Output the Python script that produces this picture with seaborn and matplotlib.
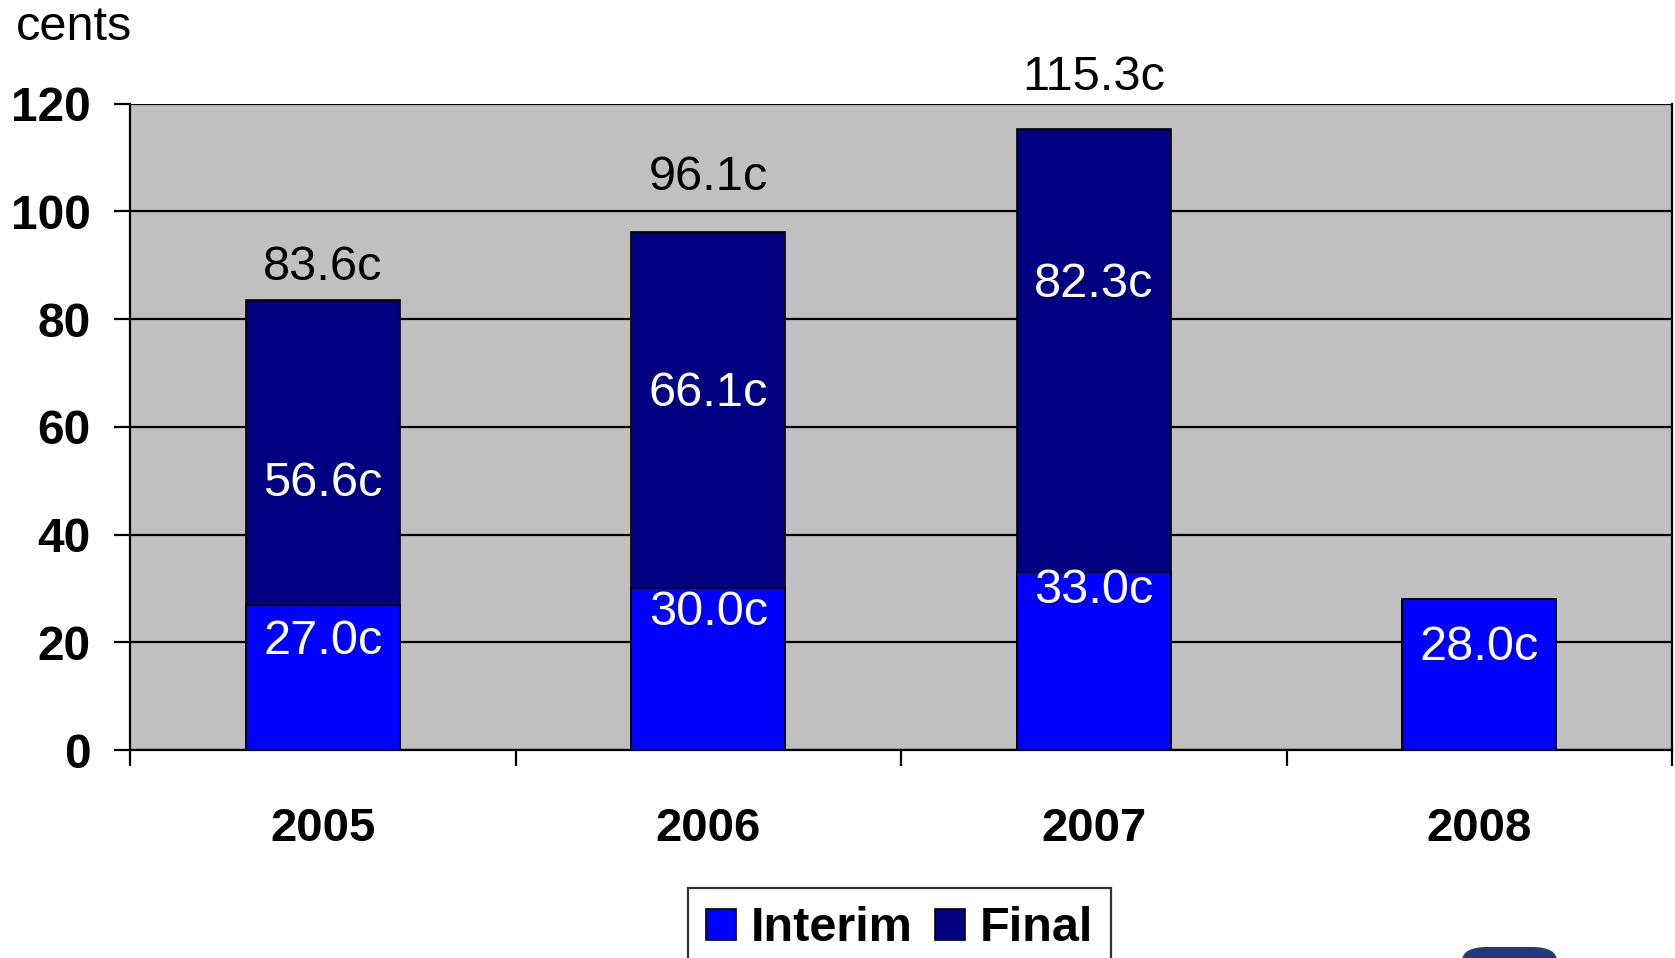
import numpy as np
import pandas as pd
import matplotlib.pyplot as plt
import seaborn as sns
from matplotlib.patches import Patch, FancyBboxPatch

# dividend per share, cents
years = ['2005', '2006', '2007', '2008']
interim = [27.0, 30.0, 33.0, 28.0]
final = [56.6, 66.1, 82.3, np.nan]

# where the labels sit (value units), as laid out in the original
final_label_y = [49.4, 66.2, 86.4, None]
interim_label_y = [20.1, 25.6, 29.6, 19.1]
total_label_y = [89.6, 106.2, 124.8, None]

df = pd.DataFrame({'year': years, 'interim': interim, 'final': final})
df['total'] = df['interim'] + df['final'].fillna(0)

sns.set_style('white')
plt.rcParams['font.family'] = ['Liberation Sans', 'DejaVu Sans']
plt.rcParams['text.color'] = 'black'
plt.rcParams['xtick.color'] = 'black'
plt.rcParams['ytick.color'] = 'black'

fig = plt.figure(figsize=(16.75, 9.58), dpi=100)
ax = fig.add_axes([130 / 1675, 1 - 750 / 958, 1542 / 1675, (750 - 103.6) / 958])
ax.set_facecolor('#C0C0C0')

sns.barplot(data=df, x='year', y='total', color='#000080', width=0.4,
            saturation=1, edgecolor='black', linewidth=1.2, ax=ax)
sns.barplot(data=df, x='year', y='interim', color='#0000FF', width=0.4,
            saturation=1, edgecolor='black', linewidth=1.2, ax=ax)

ax.set_xlim(-0.5, 3.5)
ax.set_ylim(0, 120)
ax.set_yticks(range(0, 121, 20))
ax.yaxis.grid(True, color='black', lw=1.6)
ax.set_axisbelow(True)
ax.set_xlabel('')
ax.set_ylabel('')

for s in ['left', 'bottom', 'right']:
    ax.spines[s].set_visible(True)
    ax.spines[s].set_color('black')
    ax.spines[s].set_linewidth(1.6)
ax.spines['top'].set_visible(False)

ax.tick_params(axis='y', which='major', direction='out', length=11.5, width=1.6,
               pad=17, labelsize=34.5, left=True, labelcolor='black')
ax.set_yticklabels([str(v) for v in range(0, 121, 20)], fontweight='bold')
ax.set_xticks(range(len(years)))
ax.set_xticklabels(years, fontweight='bold')
ax.tick_params(axis='x', which='major', length=0, pad=41, labelsize=34,
               labelcolor='black')
ax.set_xticks(np.arange(-0.5, len(years), 1.0), minor=True)
ax.tick_params(axis='x', which='minor', direction='out', length=11.5, width=1.6,
               bottom=True)

for i in range(len(years)):
    ax.text(i, interim_label_y[i], f'{interim[i]:.1f}c', color='white',
            fontsize=35, ha='center', va='center')
    if not np.isnan(final[i]):
        ax.text(i, final_label_y[i], f'{final[i]:.1f}c', color='white',
                fontsize=35, ha='center', va='center')
        ax.text(i, total_label_y[i], f'{df["total"][i]:.1f}c', color='black',
                fontsize=35, ha='center', va='center', clip_on=False)

fig.text(16 / 1675, 1 - 28 / 958, 'cents', fontsize=35, ha='left', va='center')

handles = [Patch(facecolor='#0000FF', edgecolor='black', lw=1.2, label='Interim'),
           Patch(facecolor='#000080', edgecolor='black', lw=1.2, label='Final')]
leg = fig.legend(handles=handles, loc='upper center', bbox_to_anchor=(0.537, 1 - 888 / 958),
                 ncol=2, prop={'weight': 'bold', 'size': 35},
                 frameon=True, fancybox=False, edgecolor='black',
                 handlelength=0.62, handleheight=0.62, handletextpad=0.3,
                 columnspacing=0.45, borderpad=0.38, borderaxespad=0)
leg.get_frame().set_linewidth(1.6)
for t in leg.get_texts():
    t.set_color('black')

# corner of the logo peeking in at the bottom
fig.patches.append(FancyBboxPatch((1462 / 1675, -0.04), 95 / 1675, 0.0515,
                                  boxstyle='round,pad=0,rounding_size=0.015',
                                  transform=fig.transFigure, facecolor='#233a7a',
                                  edgecolor='none'))

fig.savefig('out.png', dpi=100)
